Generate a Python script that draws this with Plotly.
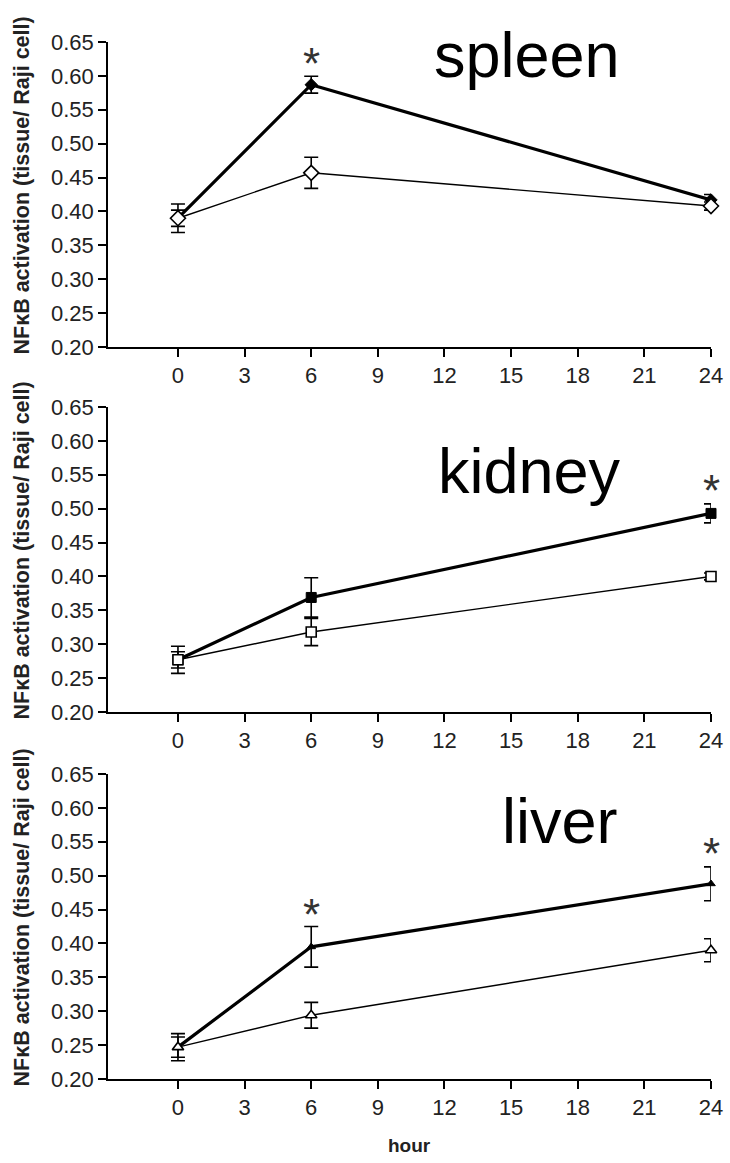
import plotly.graph_objects as go

hours = [0, 6, 24]

spleen_filled = [0.390, 0.587, 0.417]
spleen_filled_err = [0.012, 0.0125, 0.008]
spleen_open = [0.390, 0.457, 0.408]
spleen_open_err = [0.021, 0.023, 0.006]

kidney_filled = [0.277, 0.369, 0.493]
kidney_filled_err = [0.012, 0.029, 0.014]
kidney_open = [0.277, 0.318, 0.400]
kidney_open_err = [0.020, 0.020, 0.005]

liver_filled = [0.247, 0.395, 0.488]
liver_filled_err = [0.015, 0.030, 0.025]
liver_open = [0.247, 0.294, 0.390]
liver_open_err = [0.020, 0.019, 0.017]

panel_titles = ["spleen", "kidney", "liver"]
title_pos = [(15.7, 0.631), (15.85, 0.555), (17.2, 0.581)]
star_points = [[(6, 0.619)], [(24, 0.527)], [(6, 0.442), (24, 0.533)]]

x_ticks = [0, 3, 6, 9, 12, 15, 18, 21, 24]
y_ticks = [0.20, 0.25, 0.30, 0.35, 0.40, 0.45, 0.50, 0.55, 0.60, 0.65]
y_title = "NFκB activation (tissue/ Raji cell)"
x_title = "hour"

W, H = 730, 1163
panels_px = [(42, 347), (407, 712), (774, 1079)]
x_dom = [108 / W, 711 / W]

series = [
    (spleen_filled, spleen_filled_err, spleen_open, spleen_open_err, "diamond"),
    (kidney_filled, kidney_filled_err, kidney_open, kidney_open_err, "square"),
    (liver_filled, liver_filled_err, liver_open, liver_open_err, "triangle-up"),
]
sizes = {"diamond": (9.5, 11.5), "square": (10, 10), "triangle-up": (7.5, 10)}

fig = go.Figure()
layout = {}
annotations = []
font_family = "Liberation Sans, Arial, sans-serif"

for i, (f, fe, o, oe, sym) in enumerate(series):
    n = "" if i == 0 else str(i + 1)
    xa, ya = "x" + n, "y" + n
    fs, osz = sizes[sym]
    fig.add_trace(go.Scatter(
        x=hours, y=f, xaxis=xa, yaxis=ya, mode="lines+markers",
        line=dict(color="black", width=3.2),
        marker=dict(symbol=sym, size=fs, color="black", line=dict(color="black", width=1)),
        error_y=dict(type="data", array=fe, color="black", thickness=1.6, width=7),
        showlegend=False, cliponaxis=False))
    fig.add_trace(go.Scatter(
        x=hours, y=o, xaxis=xa, yaxis=ya, mode="lines+markers",
        line=dict(color="black", width=1.4),
        marker=dict(symbol=sym, size=osz, color="white", line=dict(color="black", width=1.6)),
        error_y=dict(type="data", array=oe, color="black", thickness=1.6, width=7),
        showlegend=False, cliponaxis=False))

    top, bot = panels_px[i]
    y_dom = [1 - bot / H, 1 - top / H]
    layout["xaxis" + n] = dict(
        domain=x_dom, anchor=ya, range=[-3.15, 24], tickvals=x_ticks,
        ticktext=[str(v) for v in x_ticks], ticks="outside", ticklen=8,
        tickwidth=1.5, tickcolor="black", showline=True, linecolor="black",
        linewidth=1.5, showgrid=False, zeroline=False, automargin=False,
        tickfont=dict(family=font_family, size=22, color="#222"))
    layout["yaxis" + n] = dict(
        domain=y_dom, anchor=xa, range=[0.20, 0.65], tickvals=y_ticks,
        ticktext=["%.2f" % v for v in y_ticks], ticks="outside", ticklen=8,
        tickwidth=1.5, tickcolor="black", showline=True, linecolor="black",
        linewidth=1.5, showgrid=False, zeroline=False, automargin=False,
        tickfont=dict(family=font_family, size=22, color="#222"))

    annotations.append(dict(
        text="<b>" + y_title + "</b>", xref="paper", yref="paper",
        x=21 / W, y=1 - ((top + bot) / 2 - 9) / H, textangle=-90, showarrow=False,
        font=dict(family=font_family, size=21.5, color="#222"),
        xanchor="center", yanchor="middle"))

for i, name in enumerate(panel_titles):
    n = "" if i == 0 else str(i + 1)
    tx, ty = title_pos[i]
    annotations.append(dict(text=name, xref="x" + n, yref="y" + n, x=tx, y=ty,
                            showarrow=False,
                            font=dict(family=font_family, size=63, color="black"),
                            xanchor="center", yanchor="middle"))

for i, pts in enumerate(star_points):
    n = "" if i == 0 else str(i + 1)
    for (sx, sy) in pts:
        annotations.append(dict(text="*", xref="x" + n, yref="y" + n, x=sx, y=sy,
                                showarrow=False,
                                font=dict(family=font_family, size=44, color="#333"),
                                xanchor="center", yanchor="middle"))

annotations.append(dict(text="<b>" + x_title + "</b>", xref="paper", yref="paper",
                        x=409 / W, y=1 - 1145 / H, showarrow=False,
                        font=dict(family=font_family, size=19, color="#222"),
                        xanchor="center", yanchor="middle"))

fig.update_layout(
    width=W, height=H, margin=dict(l=0, r=0, t=0, b=0, autoexpand=False),
    paper_bgcolor="white", plot_bgcolor="white",
    annotations=annotations, **layout)

fig.write_html("out.html", config={"displayModeBar": False},
               post_script="document.body.style.margin='0';")
